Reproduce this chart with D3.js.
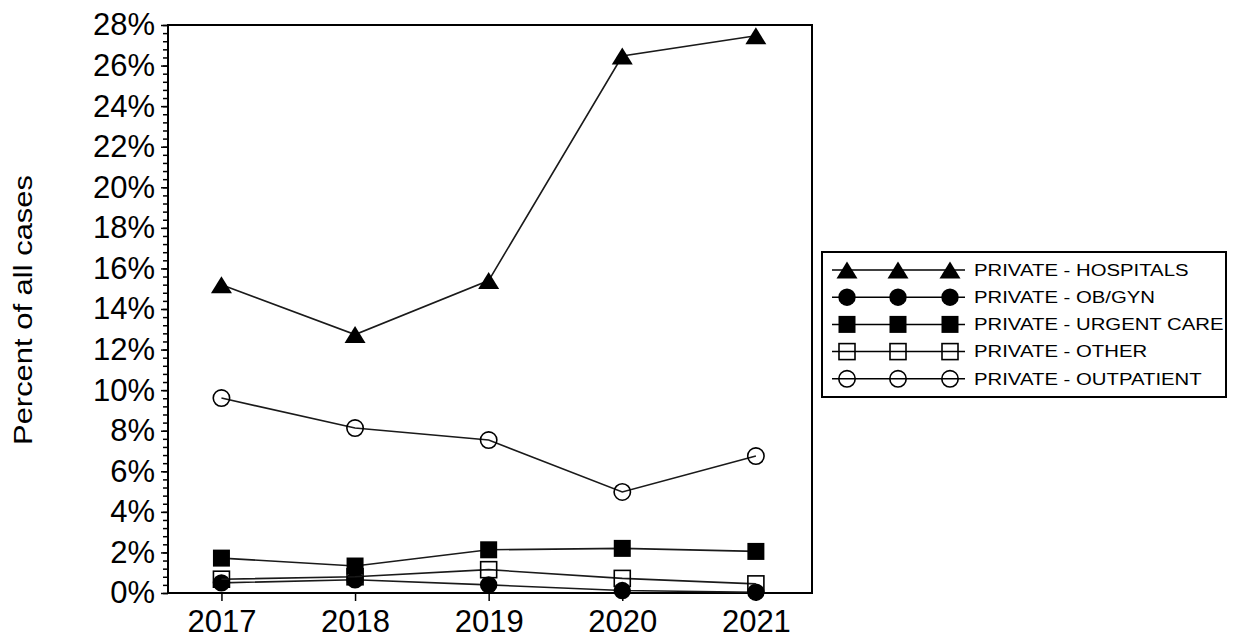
<!DOCTYPE html>
<html>
<head>
<meta charset="utf-8">
<script src="https://cdn.jsdelivr.net/npm/d3@7"></script>
<style>
  html, body { margin: 0; padding: 0; background: #fff; }
  svg { display: block; }
  text { font-family: "Liberation Sans", Arial, sans-serif; fill: #000; }
</style>
</head>
<body>
<svg id="chart" width="1244" height="639"></svg>
<script>
// ---- data ----
const years = [2017, 2018, 2019, 2020, 2021];
const hospitals  = [15.2, 12.74, 15.4, 26.47, 27.47];
const obgyn      = [0.5, 0.65, 0.4, 0.12, 0.04];
const urgentCare = [1.72, 1.33, 2.13, 2.2, 2.05];
const other      = [0.68, 0.8, 1.15, 0.72, 0.45];
const outpatient = [9.61, 8.13, 7.54, 4.98, 6.75];
const seriesNames = ["PRIVATE - HOSPITALS", "PRIVATE - OB/GYN", "PRIVATE - URGENT CARE", "PRIVATE - OTHER", "PRIVATE - OUTPATIENT"];
const seriesSymbols = ["triangle", "dot", "square", "openSquare", "openCircle"];
const yTicks = d3.range(0, 29, 2);
const yTitle = "Percent of all cases";

const seriesValues = [hospitals, obgyn, urgentCare, other, outpatient];

const svg = d3.select("#chart");
const L = 168, R = 812, T = 25, B = 593;

const x = d3.scaleLinear().domain([2016.6, 2021.42]).range([L, R]);
const y = d3.scaleLinear().domain([0, 28]).range([B, T]);

const textColor = "#333";

// minor y ticks
svg.append("g").attr("transform", `translate(${L},0)`)
  .call(d3.axisLeft(y).tickValues(d3.range(0, 28.001, 0.4)).tickSize(5).tickFormat(""))
  .call(g => g.select(".domain").remove())
  .call(g => g.selectAll("line").attr("stroke", "#000").attr("stroke-width", 1.5));

// major y ticks
const yAxis = svg.append("g").attr("transform", `translate(${L},0)`)
  .call(d3.axisLeft(y).tickValues(yTicks).tickSize(7).tickPadding(6).tickFormat(d => d + "%"))
  .call(g => g.select(".domain").remove())
  .call(g => g.selectAll("line").attr("stroke", "#000").attr("stroke-width", 1.5));
yAxis.selectAll("text").attr("font-size", 31).attr("font-family", "Liberation Sans, Arial, sans-serif").attr("fill", textColor);

// x axis
const xAxis = svg.append("g").attr("transform", `translate(0,${B})`)
  .call(d3.axisBottom(x).tickValues(years).tickSize(8).tickPadding(9).tickFormat(d3.format("d")))
  .call(g => g.select(".domain").remove())
  .call(g => g.selectAll("line").attr("stroke", "#000").attr("stroke-width", 1.5));
xAxis.selectAll("text").attr("font-size", 31).attr("font-family", "Liberation Sans, Arial, sans-serif").attr("fill", textColor);

// frame
svg.append("rect").attr("x", L).attr("y", T).attr("width", R - L).attr("height", B - T)
  .attr("fill", "none").attr("stroke", "#000").attr("stroke-width", 2);

// y title
const yt = svg.append("text")
  .attr("transform", `translate(32,310) rotate(-90)`)
  .attr("text-anchor", "middle")
  .attr("font-size", 26)
  .attr("fill", textColor)
  .text(yTitle);
yt.attr("textLength", 270).attr("lengthAdjust", "spacingAndGlyphs");

// symbol drawing
function drawSymbol(g, type, cx, cy) {
  const s = 17;
  if (type === "triangle") {
    g.append("path")
      .attr("d", `M${cx},${cy - 8.5} L${cx + 10.5},${cy + 8.5} L${cx - 10.5},${cy + 8.5} Z`)
      .attr("fill", "#000");
  } else if (type === "dot") {
    g.append("circle").attr("cx", cx).attr("cy", cy).attr("r", 8.7).attr("fill", "#000");
  } else if (type === "square") {
    g.append("rect").attr("x", cx - s / 2).attr("y", cy - s / 2).attr("width", s).attr("height", s).attr("fill", "#000");
  } else if (type === "openSquare") {
    g.append("rect").attr("x", cx - 8).attr("y", cy - 8).attr("width", 16).attr("height", 16)
      .attr("fill", "none").attr("stroke", "#000").attr("stroke-width", 1.6);
  } else if (type === "openCircle") {
    g.append("circle").attr("cx", cx).attr("cy", cy).attr("r", 8.2)
      .attr("fill", "none").attr("stroke", "#000").attr("stroke-width", 1.6);
  }
}

// series
const line = d3.line().x((d, i) => x(years[i])).y(d => y(d));
seriesValues.forEach((vals, si) => {
  const g = svg.append("g");
  g.append("path").attr("d", line(vals)).attr("fill", "none")
    .attr("stroke", "#1a1a1a").attr("stroke-width", 1.6);
  vals.forEach((v, i) => drawSymbol(g, seriesSymbols[si], x(years[i]), y(v)));
});

// legend
const lg = svg.append("g");
lg.append("rect").attr("x", 822).attr("y", 252).attr("width", 404).attr("height", 145)
  .attr("fill", "none").attr("stroke", "#000").attr("stroke-width", 2);
seriesNames.forEach((name, i) => {
  const cy = 270 + i * 27.2;
  lg.append("line").attr("x1", 832).attr("x2", 965).attr("y1", cy).attr("y2", cy)
    .attr("stroke", "#000").attr("stroke-width", 1.5);
  [847, 898, 950].forEach(cx => drawSymbol(lg, seriesSymbols[i], cx, cy));
  const t = lg.append("text").attr("x", 974).attr("y", cy).attr("dy", "0.36em")
    .attr("font-size", 16).attr("fill", textColor).text(name);
  const w = t.node().getComputedTextLength();
  t.attr("textLength", w * 1.27).attr("lengthAdjust", "spacingAndGlyphs");
});
</script>
</body>
</html>
